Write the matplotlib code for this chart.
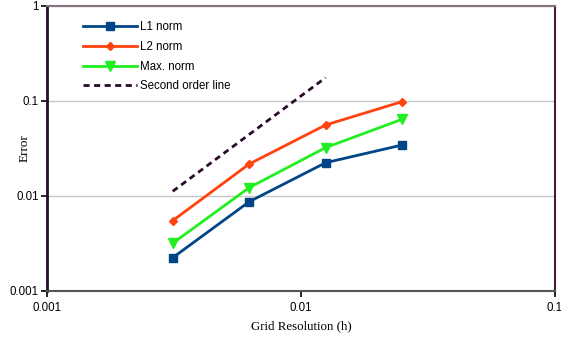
import matplotlib.pyplot as plt
from matplotlib.ticker import FixedLocator, NullLocator

# grid resolution
h = [0.003125, 0.00625, 0.0125, 0.025]

# error norms
l1_norm = [0.00224, 0.0087, 0.0224, 0.0344]
l2_norm = [0.00550, 0.0217, 0.0559, 0.0984]
max_norm = [0.00318, 0.01225, 0.0323, 0.0642]

# second order reference line
ref_h = [0.003125, 0.0125]
ref_err = [0.0112, 0.176]

fig = plt.figure(figsize=(5.61, 3.5), dpi=100)
ax = fig.add_axes([0.0838, 0.1686, 0.9055, 0.8143])

ax.plot(h, l1_norm, color='#004586', lw=2, marker='s', ms=6, label='L1 norm')
ax.plot(h, l2_norm, color='#ff420e', lw=2, marker='D', ms=4.5, label='L2 norm')
ax.plot(h, max_norm, color='#22ee22', lw=2, marker='v', ms=7, label='Max. norm')
ax.plot(ref_h, ref_err, color='#2a0a2a', lw=2, ls=(0, (2.2, 1.6)), label='Second order line')

ax.set_xscale('log')
ax.set_yscale('log')
ax.set_xlim(0.001, 0.1)
ax.set_ylim(0.001, 1)

ax.xaxis.set_major_locator(FixedLocator([0.001, 0.01, 0.1]))
ax.yaxis.set_major_locator(FixedLocator([0.001, 0.01, 0.1, 1]))
ax.xaxis.set_minor_locator(NullLocator())
ax.yaxis.set_minor_locator(NullLocator())
ax.set_xticklabels(['0.001', '0.01', '0.1'])
ax.set_yticklabels(['0.001', '0.01', '0.1', '1'])
ax.tick_params(labelsize=8.3, length=4, width=1.2, pad=2,
               labelfontfamily='Liberation Sans')
ax.tick_params(axis='x', pad=4)

ax.yaxis.grid(True, color='#c8c8c8', lw=1)
ax.set_axisbelow(True)

ax.spines['left'].set_color('#2a0a2a')
ax.spines['left'].set_linewidth(2)
ax.spines['right'].set_color('#4a1a40')
ax.spines['right'].set_linewidth(1.5)
ax.spines['top'].set_color('#8a7080')
ax.spines['top'].set_linewidth(1.5)
ax.spines['bottom'].set_color('#555555')
ax.spines['bottom'].set_linewidth(1.5)

ax.set_xlabel('Grid Resolution (h)', family='Liberation Serif', fontsize=9.3)
ax.set_ylabel('Error', family='Liberation Serif', fontsize=9.5)
ax.xaxis.set_label_coords(0.5, -0.102)
ax.yaxis.set_label_coords(-0.033, 0.5)

ax.legend(loc='upper left', bbox_to_anchor=(0.05, 0.982), frameon=False,
          prop={'family': 'Liberation Sans', 'size': 8.3}, handlelength=4.7,
          labelspacing=0.66, handletextpad=0.3)

fig.savefig('out.png', dpi=100)
